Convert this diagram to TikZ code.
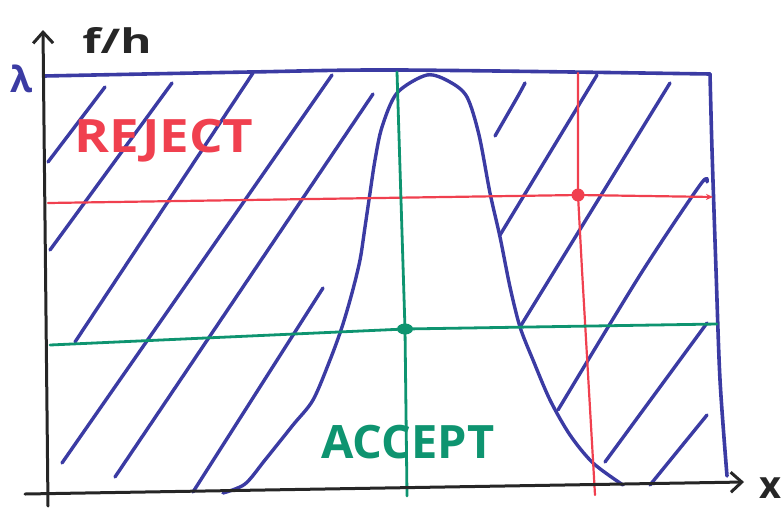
\documentclass[tikz,border=0pt]{standalone}
\usepackage{fontspec}
\setmainfont{Open Sans}
\usetikzlibrary{arrows.meta, positioning, shapes.geometric}
\definecolor{penblue}{HTML}{3B3BA3}
\definecolor{penred}{HTML}{F0404F}
\definecolor{pengreen}{HTML}{0E9470}
\definecolor{penblack}{HTML}{262626}

\begin{document}
\begin{tikzpicture}[x=1pt, y=-1pt,
  pen/.style={line cap=round, line join=round},
  axis/.style={pen, draw=penblack, line width=3pt,
               -{Straight Barb[length=11pt, width=20pt, line width=3pt]}},
  frame/.style={pen, draw=penblue, line width=3.6pt},
  hatch/.style={pen, draw=penblue, line width=3.4pt},
  rejline/.style={pen, draw=penred, line width=2.2pt},
  accline/.style={pen, draw=pengreen, line width=2.8pt},
  dot/.style={circle, inner sep=0pt, minimum size=13pt},
  lbl/.style={inner sep=0pt, font=\fontsize{46}{46}\selectfont\bfseries}]
\useasboundingbox (0,0) rectangle (783,514);

\coordinate (ytop) at (43,30);
\coordinate (ybot) at (48,506);
\coordinate (xl) at (25,494);
\coordinate (xr) at (744,482);
\coordinate (tl) at (44,76);
\coordinate (tr) at (710,74);

\foreach \xa/\ya/\xb/\yb in {48/162/105/87, 50/250/172/83, 75/342/253/73,
    62/463/332/75, 115/477/373/94, 193/492/323/288, 500/235/597/75,
    520/327/670/83, 605/462/707/323, 650/485/707/415}
  \draw[hatch] (\xa,\ya) -- (\xb,\yb);
\draw[hatch] plot[smooth] coordinates {(495,136) (518,96) (525,83)};
\draw[hatch] plot[smooth] coordinates {(558,410) (640,275) (700,185) (707,182)};

\draw[hatch] plot[smooth, tension=0.5] coordinates {(223,493) (245,484)
  (265,460) (293,425) (313,400) (330,360) (342,327) (352,293) (360,260)
  (365,227) (370,193) (375,160) (382,127) (397,93) (427,75) (450,82)
  (467,97) (479,135) (490,193) (500,237) (510,287) (520,327) (533,360)
  (550,400) (570,435) (593,463) (623,485)};

\draw[frame] plot[smooth] coordinates {(tl) (250,72) (400,70) (tr)};
\draw[frame] plot[smooth] coordinates {(tr) (712,150) (716,270) (720,380) (727,476)};

\node[dot, fill=penred] (rdot) at (578,195) {};
\node[ellipse, inner sep=0pt, minimum width=16pt, minimum height=11pt,
      fill=pengreen] (gdot) at (405,329) {};

\coordinate (rl) at (48,203);
\coordinate (rr) at (713,197);
\coordinate (rt) at (578,73);
\coordinate (rb) at (595,495);
\draw[rejline, -{Stealth[length=7pt, width=6pt]}] (rl) -- (rdot.center) -- (rr);
\draw[rejline] (rt) -- (rdot.center) -- (582,270) -- (rb);

\coordinate (gl) at (50,345);
\coordinate (gr) at (717,324);
\coordinate (gt) at (397,72);
\coordinate (gb) at (407,496);
\draw[accline] (gl) -- (gdot.center) -- (gr);
\draw[accline] (gt) -- (gdot.center) -- (gb);

\draw[axis] (ybot) -- (ytop);
\draw[axis] (xl) -- (xr);

\node[lbl, text=penred] (reject) at (164,141) {\scalebox{1.15}[1]{REJECT}};
\node[lbl, text=pengreen] (accept) at (408,442) {\scalebox{1.02}[1]{ACCEPT}};
\node[lbl, text=penblack, font=\fontsize{34}{34}\selectfont\bfseries] (fh) at (117,40)
  {\scalebox{1.4}[1]{f/h}};
\node[lbl, text=penblue, font=\fontsize{36}{36}\selectfont\bfseries] (lam) at (22,79) {λ};
\node[lbl, text=penblack, font=\fontsize{38}{38}\selectfont\bfseries] (xlab) at (770,488) {x};
\end{tikzpicture}
\end{document}
